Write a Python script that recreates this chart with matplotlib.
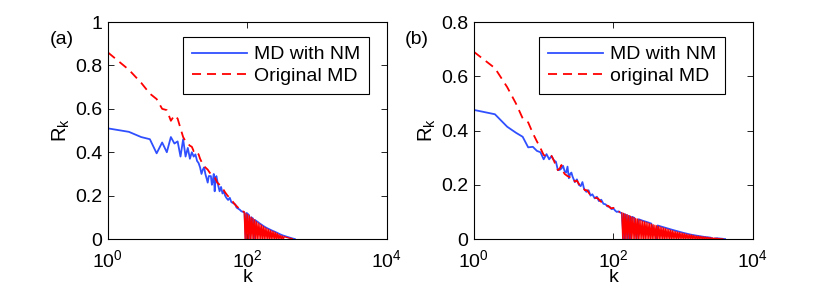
import matplotlib
matplotlib.use('Agg')
import matplotlib.pyplot as plt
import numpy as np
from matplotlib.ticker import NullLocator

plt.rcParams['font.family'] = ['Liberation Sans', 'DejaVu Sans']
plt.rcParams['mathtext.default'] = 'regular'

# ---------------- data: panel (a) ----------------
A_BLUE_K = [1, 2, 3, 4, 5, 6, 7, 8, 9, 10, 11, 12, 13, 14, 15, 16, 17, 18, 19, 20,
            21, 22, 23, 24, 25, 26, 27, 28, 30, 31, 32, 33, 34, 35, 36,
            38, 40, 42, 44, 46, 48, 50,
            53, 56, 59, 63, 67, 70, 74, 78, 82, 87, 91, 95, 98,
            102, 106, 110, 114, 120, 124, 128,
            135, 142, 150, 160, 170, 180, 195,
            210, 230, 250, 270, 290, 320, 350, 400, 440, 480]
A_BLUE_R = [0.51, 0.494, 0.47, 0.46, 0.395, 0.445, 0.40, 0.47, 0.44, 0.45, 0.38, 0.46, 0.38, 0.42, 0.37, 0.40, 0.38, 0.39, 0.36, 0.35,
            0.33, 0.30, 0.32, 0.33, 0.30, 0.28, 0.26, 0.29, 0.29, 0.25, 0.27, 0.30, 0.22, 0.28, 0.29,
            0.25, 0.22, 0.24, 0.21, 0.22, 0.20, 0.19,
            0.18, 0.19, 0.17, 0.165, 0.16, 0.145, 0.14, 0.135, 0.128, 0.125, 0.122, 0.0, 0.12,
            0.115, 0.11, 0.0, 0.10, 0.095, 0.0, 0.088,
            0.083, 0.078, 0.072, 0.066, 0.06, 0.055, 0.049,
            0.044, 0.038, 0.033, 0.028, 0.023, 0.017, 0.013, 0.007, 0.003, 0.0]

A_RED_K = [1, 2, 3, 4, 5, 6, 7, 8, 9, 10, 11, 12, 13, 14, 15, 16, 17, 18, 19, 20,
           21, 22, 23, 24, 25, 27, 29, 31, 34, 37, 40, 44, 48, 52, 56,
           61, 66, 71, 76, 81, 87,
           90.2, 92.8, 95.5, 98.3, 101.2, 104.1, 107.2, 110.3, 113.5, 116.8,
           120.2, 123.7, 127.4, 131.1, 134.9, 138.8, 142.9, 147.0, 151.4, 155.8,
           160.3, 165.0, 169.8, 174.8, 179.9, 185.1, 190.5, 196.1, 201.8, 207.7,
           213.8, 220.0, 226.5, 233.1, 239.9, 246.9, 254.1, 261.5, 269.2, 277.0,
           285.1, 293.4, 302.0, 310.8, 319.9, 329.2, 338.8,
           370, 400, 440]
A_RED_R = [0.86, 0.78, 0.72, 0.67, 0.645, 0.60, 0.594, 0.545, 0.57, 0.555, 0.51, 0.47, 0.45, 0.44, 0.43, 0.425, 0.405, 0.41, 0.40, 0.39,
           0.37, 0.356, 0.34, 0.335, 0.33, 0.32, 0.305, 0.295, 0.285, 0.26, 0.25, 0.235, 0.215, 0.20, 0.19,
           0.175, 0.16, 0.15, 0.14, 0.135, 0.128,
           0.124, 0.0, 0.119, 0.0, 0.113, 0.0, 0.107, 0.0, 0.101, 0.0,
           0.095, 0.0, 0.089, 0.0, 0.080, 0.0, 0.074, 0.0, 0.069, 0.0,
           0.064, 0.0, 0.058, 0.0, 0.053, 0.0, 0.048, 0.0, 0.044, 0.0,
           0.040, 0.0, 0.037, 0.0, 0.034, 0.0, 0.030, 0.0, 0.026, 0.0,
           0.021, 0.0, 0.017, 0.0, 0.014, 0.0, 0.011,
           0.007, 0.004, 0.002]

# ---------------- data: panel (b) ----------------
B_BLUE_K = [1, 2, 3, 4, 5, 6, 7, 8, 9, 10, 11, 12, 13, 14, 15, 16, 17, 18, 19, 20,
            21, 22, 23, 24, 25, 26, 28, 30, 32, 34, 36, 38,
            41, 44, 47, 50, 54, 58, 62, 67, 72, 77, 83, 89, 95, 100,
            106, 112, 118, 125, 132, 140, 145, 150, 156, 162, 170, 176, 185,
            200, 215, 230, 260, 300, 350, 420, 430,
            500, 600, 700, 850, 1000, 1300, 1600, 2000, 2500, 2700, 3000, 3500, 4000]
B_BLUE_R = [0.476, 0.46, 0.414, 0.392, 0.377, 0.338, 0.34, 0.325, 0.32, 0.294, 0.313, 0.294, 0.306, 0.29, 0.285, 0.254, 0.255, 0.26, 0.27, 0.25,
            0.245, 0.267, 0.224, 0.24, 0.245, 0.23, 0.21, 0.22, 0.2, 0.195, 0.21, 0.185,
            0.174, 0.18, 0.16, 0.165, 0.15, 0.156, 0.14, 0.145, 0.13, 0.128, 0.12, 0.118, 0.11, 0.113,
            0.105, 0.10, 0.102, 0.098, 0.095, 0.0, 0.092, 0.0, 0.089, 0.0, 0.085, 0.0, 0.082,
            0.078, 0.0, 0.073, 0.068, 0.063, 0.057, 0.0, 0.05,
            0.045, 0.039, 0.034, 0.028, 0.023, 0.016, 0.012, 0.008, 0.005, 0.0, 0.003, 0.0015, 0.0]

B_RED_K = [1, 2, 3, 4, 5, 6, 7, 8, 9, 10, 11, 12, 13, 14, 15, 16, 17, 18, 19, 20,
           22, 24, 26, 28, 30, 33, 36, 39, 42, 46, 50, 55, 60, 66, 72, 78, 85, 92, 100, 108, 116, 124,
           132, 136, 140, 144, 148, 152, 157, 161, 166, 171, 176, 181, 186, 192, 197, 203,
           209, 215, 221, 228, 234, 241, 248, 256, 263, 271, 279, 287, 295, 304, 313, 322,
           331, 341, 351, 361, 372, 382, 394, 405, 417, 429, 442, 455, 468, 481, 496, 510,
           525, 540, 556, 572, 589, 606, 624, 642, 661, 680, 700, 720, 741, 763, 785, 808,
           832, 856, 881, 907, 933, 961, 989, 1017, 1047, 1078, 1109, 1142, 1175, 1209,
           1245, 1281, 1318, 1357, 1396, 1437, 1479, 1522, 1567, 1613, 1660, 1708, 1758, 1809,
           1862, 1917, 1972, 2030, 2089, 2150, 2213, 2278, 2344, 2413, 2483, 2556, 2630, 2707,
           2786, 2868, 2951, 3037, 3126, 3217, 3311, 3408, 3508, 3610, 3715]
B_RED_R = [0.69, 0.63, 0.56, 0.50, 0.445, 0.43, 0.39, 0.36, 0.335, 0.31, 0.305, 0.31, 0.306, 0.29, 0.27, 0.254, 0.26, 0.273, 0.25, 0.24,
           0.232, 0.228, 0.23, 0.212, 0.215, 0.198, 0.195, 0.18, 0.18, 0.165, 0.163, 0.152, 0.15, 0.138, 0.136, 0.124, 0.122, 0.113, 0.115, 0.104, 0.103, 0.099,
           0.097, 0.0, 0.095, 0.0, 0.092, 0.0, 0.090, 0.0, 0.087, 0.0, 0.084, 0.0, 0.081, 0.0, 0.079, 0.0,
           0.076, 0.0, 0.074, 0.0, 0.071, 0.0, 0.069, 0.0, 0.066, 0.0, 0.064, 0.0, 0.062, 0.0, 0.060, 0.0,
           0.057, 0.0, 0.055, 0.0, 0.053, 0.0, 0.051, 0.0, 0.049, 0.0, 0.047, 0.0, 0.045, 0.0, 0.043, 0.0,
           0.041, 0.0, 0.039, 0.0, 0.037, 0.0, 0.035, 0.0, 0.033, 0.0, 0.031, 0.0, 0.029, 0.0, 0.0275, 0.0,
           0.026, 0.0, 0.0245, 0.0, 0.023, 0.0, 0.0215, 0.0, 0.020, 0.0, 0.0185, 0.0, 0.017, 0.0,
           0.016, 0.0, 0.015, 0.0, 0.0135, 0.0, 0.012, 0.0, 0.011, 0.0, 0.0105, 0.0, 0.0098, 0.0,
           0.009, 0.0, 0.0082, 0.0, 0.0075, 0.0, 0.0068, 0.0, 0.006, 0.0, 0.0052, 0.0, 0.0045, 0.0,
           0.004, 0.0, 0.0035, 0.0, 0.0028, 0.0, 0.002, 0.0, 0.0015, 0.0, 0.001]

LABEL_BLUE = 'MD with NM'
LABEL_RED_A = 'Original MD'
LABEL_RED_B = 'original MD'
X_TICKS = [1, 100, 10000]
Y_TICKS_A = [0, 0.2, 0.4, 0.6, 0.8, 1]
Y_TICKS_B = [0, 0.2, 0.4, 0.6, 0.8]
# degree above which the curves oscillate densely down to zero
K_DENSE_A = 90
K_DENSE_B = 130

BLUE = '#3050ff'
RED = '#ff0000'
FS = 14

fig = plt.figure(figsize=(8.3, 2.88), dpi=100)
axA = fig.add_axes([0.130, 0.170, 0.336, 0.7535])
axB = fig.add_axes([0.571, 0.170, 0.336, 0.7535])


def style(ax, kb, rb, kr, rr, red_label, yticks, ymax, leg_x, k_dense):
    ax.plot(kb, rb, color=BLUE, lw=1.3, label=LABEL_BLUE)
    kr = np.asarray(kr, dtype=float)
    rr = np.asarray(rr, dtype=float)
    lo = kr <= k_dense + 1
    hi = kr >= k_dense - 4
    ax.plot(kr[lo], rr[lo], color=RED, lw=1.3, ls=(0, (5, 3.3)), label=red_label)
    # dense oscillating part renders as a near-solid band in the original
    ax.plot(kr[hi], rr[hi], color=RED, lw=0.9, ls='-')
    ax.set_xscale('log')
    ax.set_xlim(1, 10000)
    ax.set_ylim(0, ymax)
    ax.set_xticks(X_TICKS)
    ax.xaxis.set_minor_locator(NullLocator())
    ax.set_yticks(yticks)
    ax.set_yticklabels([('%g' % v) for v in yticks])
    ax.tick_params(direction='in', top=True, right=True, length=4, width=0.6,
                   labelsize=FS, pad=4)
    ax.tick_params(axis='x', pad=7)
    for s in ax.spines.values():
        s.set_linewidth(0.8)
    ax.set_xlabel('k', fontsize=FS, labelpad=-1)
    ax.set_ylabel('R$_k$', fontsize=FS + 0.5, labelpad=2)
    leg = ax.legend(loc='upper right', bbox_to_anchor=(leg_x, 0.931), fontsize=FS,
                    handlelength=2.85, handletextpad=0.35, borderpad=0.45,
                    labelspacing=0.2, borderaxespad=0.0, fancybox=False,
                    framealpha=1, edgecolor='black')
    leg.get_frame().set_linewidth(0.8)


style(axA, A_BLUE_K, A_BLUE_R, A_RED_K, A_RED_R, LABEL_RED_A, Y_TICKS_A, 1.0, 0.9355, K_DENSE_A)
style(axB, B_BLUE_K, B_BLUE_R, B_RED_K, B_RED_R, LABEL_RED_B, Y_TICKS_B, 0.8, 0.90, K_DENSE_B)

fig.text(50 / 830, 1 - 39 / 288, '(a)', fontsize=FS, va='center', ha='left')
fig.text(405 / 830, 1 - 39 / 288, '(b)', fontsize=FS, va='center', ha='left')

fig.savefig('out.png', dpi=100)
